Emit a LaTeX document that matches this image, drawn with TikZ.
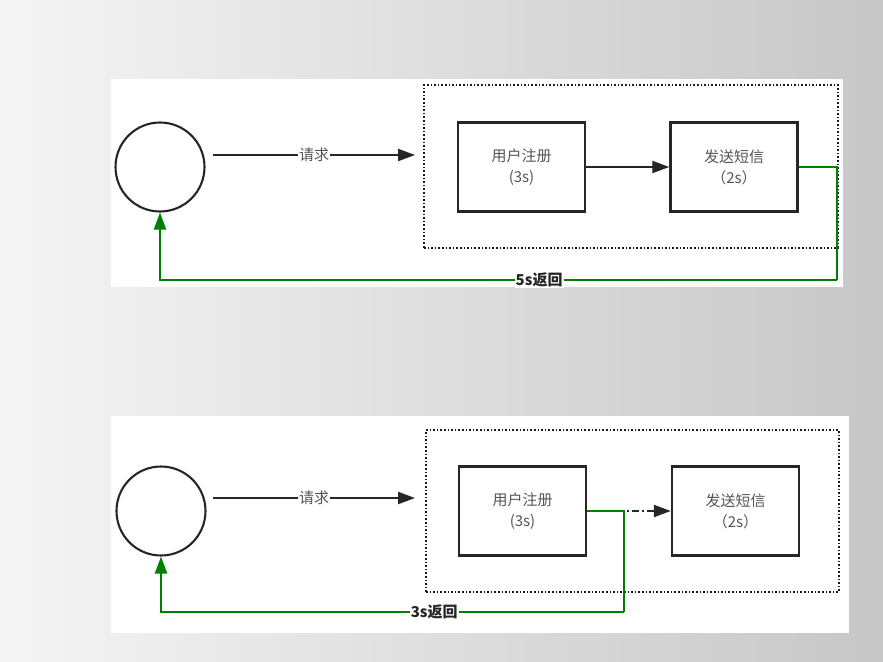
\documentclass[tikz,border=0pt]{standalone}
\usepackage{fontspec}
\setmainfont{Noto Sans CJK SC}
\usetikzlibrary{arrows.meta}
\definecolor{gline}{RGB}{0,128,0}
\definecolor{tgray}{RGB}{85,85,85}
\tikzset{
  circ/.style={circle,draw=black!85,line width=2.1pt,minimum size=89pt,inner sep=0pt},
  procbox/.style={rectangle,draw=black!85,line width=2.4pt,minimum width=127pt,minimum height=89pt,align=center,text=tgray,font=\fontsize{15}{21}\selectfont},
  dotbox/.style={rectangle,draw=black!90,line width=1.8pt,dash pattern=on 1.6pt off 2.0pt},
  arr/.style={draw=black!85,line width=2.1pt,-{Triangle[length=17pt,width=12pt]}},
  garr/.style={draw=gline,line width=2.3pt,-{Triangle[length=17pt,width=12pt]}},
  gline/.style={draw=gline,line width=2.3pt},
  lbl/.style={fill=white,inner sep=1pt,text=tgray,font=\fontsize{15}{16}\selectfont},
  blbl/.style={fill=white,inner sep=1pt,text=black!85,font=\fontsize{15}{16}\selectfont\bfseries},
  panel/.style={fill=white,draw=none}
}
\begin{document}
\begin{tikzpicture}[x=1pt,y=-1pt]
\useasboundingbox (0,0) rectangle (883,661);
\shade[left color=white!96!black,right color=white!78!black] (0,0) rectangle (883,661);
% panels
\fill[panel] (111,79) rectangle (843,287);
\fill[panel] (111,416) rectangle (849,633);

% ---------- top diagram ----------
\node[dotbox,minimum width=414pt,minimum height=163pt] (g1) at (631,166.5) {};
\node[circ] (c1) at (160,167) {};
\node[procbox] (r1) at (521.5,167) {用户注册\\(3s)};
\node[procbox] (s1) at (734,167) {发送短信\\（2s）};
\coordinate (q1s) at (213,155);
\coordinate (q1e) at (415,155);
\draw[arr] (q1s) -- node[lbl] (q1l) {请求} (q1e);
\draw[arr] (r1.east) -- (s1.west);
\coordinate (t1a) at (837,167);
\coordinate (t1b) at (837,280);
\coordinate (t1c) at (160,280);
\draw[gline] (s1.east) -- (t1a) -- (t1b);
\draw[garr] (t1b) -- node[blbl,pos=0.44] (ret1) {5s返回} (t1c) -- (c1.south);

% ---------- bottom diagram ----------
\node[dotbox,minimum width=413pt,minimum height=162pt] (g2) at (632.5,511) {};
\node[circ] (c2) at (161,511) {};
\node[procbox] (r2) at (522.5,511) {用户注册\\(3s)};
\node[procbox] (s2) at (735.5,511) {发送短信\\（2s）};
\coordinate (q2s) at (213,498);
\coordinate (q2e) at (415,498);
\draw[arr] (q2s) -- node[lbl] (q2l) {请求} (q2e);
\draw[arr,dash pattern=on 7pt off 3pt on 2pt off 3pt] (r2.east) -- (s2.west);
\coordinate (t2a) at (624,511);
\coordinate (t2b) at (624,612);
\coordinate (t2c) at (161,612);
\draw[gline] (r2.east) -- (t2a) -- (t2b);
\draw[garr] (t2b) -- node[blbl,pos=0.41] (ret2) {3s返回} (t2c) -- (c2.south);
\end{tikzpicture}
\end{document}
